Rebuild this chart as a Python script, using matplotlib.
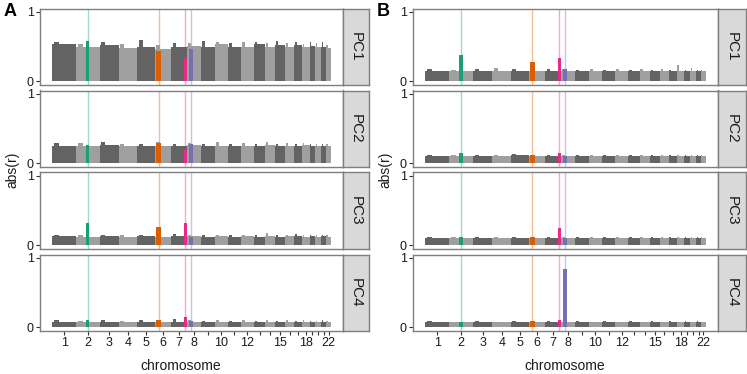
import numpy as np
import matplotlib
matplotlib.use("Agg")
import matplotlib.pyplot as plt

plt.rcParams['font.family'] = ['Liberation Sans', 'DejaVu Sans']

# chromosome lengths (Mb) and tick labels
chrom_len = [249, 243, 198, 191, 181, 171, 159, 146, 141, 136, 135,
             134, 115, 107, 103, 90, 81, 78, 59, 63, 48, 51]
tick_labels = ['1', '2', '3', '4', '5', '6', '7', '8', '', '10', '',
               '12', '', '', '15', '', '', '18', '', '', '', '22']
pcs = ['PC1', 'PC2', 'PC3', 'PC4']

# highlighted regions: chromosome, start (Mb), end (Mb)
hl_chrom = [2, 6, 7, 8]
hl_start = [100, 15, 125, 25]
hl_end = [135, 60, 159, 60]
hl_color = ['#1B9E77', '#D95F02', '#E7298A', '#7570B3']

# panel A: block level / local peak per chromosome, and highlight heights
a_level = [
    [0.53, 0.49, 0.52, 0.48, 0.50, 0.47, 0.50, 0.51, 0.50, 0.53, 0.50,
     0.50, 0.53, 0.50, 0.52, 0.50, 0.52, 0.49, 0.51, 0.50, 0.50, 0.48],
    [0.25, 0.24, 0.26, 0.24, 0.25, 0.25, 0.24, 0.26, 0.25, 0.25, 0.24,
     0.25, 0.24, 0.26, 0.24, 0.25, 0.25, 0.26, 0.24, 0.25, 0.24, 0.24],
    [0.13, 0.12, 0.13, 0.12, 0.13, 0.12, 0.13, 0.13, 0.12, 0.13, 0.12,
     0.13, 0.12, 0.13, 0.12, 0.13, 0.13, 0.12, 0.13, 0.12, 0.13, 0.12],
    [0.08, 0.08, 0.08, 0.07, 0.08, 0.08, 0.08, 0.08, 0.07, 0.08, 0.08,
     0.08, 0.07, 0.08, 0.08, 0.08, 0.07, 0.08, 0.08, 0.07, 0.08, 0.08],
]
a_peak = [
    [0.57, 0.54, 0.57, 0.53, 0.60, 0.52, 0.55, 0.55, 0.58, 0.57, 0.55,
     0.56, 0.57, 0.55, 0.58, 0.55, 0.57, 0.54, 0.57, 0.55, 0.57, 0.52],
    [0.29, 0.29, 0.31, 0.27, 0.28, 0.30, 0.28, 0.29, 0.28, 0.30, 0.27,
     0.29, 0.27, 0.30, 0.27, 0.29, 0.28, 0.29, 0.27, 0.28, 0.27, 0.27],
    [0.15, 0.14, 0.15, 0.14, 0.15, 0.14, 0.16, 0.15, 0.14, 0.15, 0.14,
     0.15, 0.14, 0.17, 0.14, 0.15, 0.16, 0.14, 0.15, 0.14, 0.15, 0.14],
    [0.10, 0.09, 0.10, 0.09, 0.10, 0.09, 0.11, 0.10, 0.09, 0.10, 0.09,
     0.10, 0.09, 0.10, 0.09, 0.10, 0.09, 0.10, 0.09, 0.09, 0.10, 0.09],
]
a_hl = [[0.58, 0.44, 0.35, 0.46],
        [0.26, 0.29, 0.20, 0.28],
        [0.32, 0.26, 0.32, 0.12],
        [0.10, 0.10, 0.15, 0.09]]

# panel B
b_level = [
    [0.15, 0.14, 0.15, 0.15, 0.15, 0.14, 0.15, 0.15, 0.14, 0.15, 0.14,
     0.15, 0.14, 0.15, 0.14, 0.15, 0.14, 0.15, 0.14, 0.15, 0.14, 0.14],
    [0.10, 0.10, 0.10, 0.10, 0.11, 0.10, 0.10, 0.10, 0.10, 0.10, 0.10,
     0.10, 0.10, 0.10, 0.10, 0.10, 0.10, 0.10, 0.10, 0.10, 0.10, 0.10],
    [0.10, 0.10, 0.10, 0.10, 0.10, 0.10, 0.10, 0.10, 0.10, 0.10, 0.10,
     0.10, 0.10, 0.10, 0.10, 0.10, 0.10, 0.10, 0.10, 0.10, 0.10, 0.10],
    [0.07, 0.07, 0.07, 0.07, 0.07, 0.07, 0.07, 0.07, 0.07, 0.07, 0.07,
     0.07, 0.07, 0.07, 0.07, 0.07, 0.07, 0.07, 0.07, 0.07, 0.07, 0.07],
]
b_peak = [
    [0.17, 0.16, 0.17, 0.19, 0.18, 0.16, 0.17, 0.18, 0.16, 0.17, 0.16,
     0.17, 0.16, 0.17, 0.16, 0.17, 0.16, 0.23, 0.16, 0.19, 0.16, 0.16],
    [0.12, 0.12, 0.12, 0.12, 0.13, 0.12, 0.12, 0.12, 0.12, 0.12, 0.12,
     0.12, 0.12, 0.12, 0.12, 0.12, 0.12, 0.12, 0.12, 0.12, 0.12, 0.12],
    [0.12, 0.11, 0.12, 0.11, 0.12, 0.11, 0.12, 0.12, 0.12, 0.11, 0.12,
     0.11, 0.12, 0.11, 0.12, 0.11, 0.12, 0.11, 0.12, 0.11, 0.12, 0.11],
    [0.09, 0.08, 0.09, 0.08, 0.09, 0.08, 0.09, 0.08, 0.09, 0.08, 0.09,
     0.08, 0.09, 0.08, 0.09, 0.08, 0.09, 0.08, 0.09, 0.08, 0.09, 0.08],
]
b_hl = [[0.38, 0.28, 0.34, 0.17],
        [0.15, 0.12, 0.15, 0.10],
        [0.12, 0.12, 0.24, 0.10],
        [0.08, 0.09, 0.10, 0.84]]

W, H = 747, 374
fig = plt.figure(figsize=(W / 100, H / 100), dpi=100)


def px_axes(x0, y0, x1, y1):
    return fig.add_axes([x0 / W, 1 - y1 / H, (x1 - x0) / W, (y1 - y0) / H])


lens = np.array(chrom_len, dtype=float)
starts = np.concatenate([[0], np.cumsum(lens)[:-1]])
centers = starts + lens / 2
G = lens.sum()
dark, light = '#636363', '#9f9f9f'
block_col = [dark if i % 2 == 0 else light for i in range(len(lens))]
hl_x0 = np.array([starts[c - 1] + s for c, s in zip(hl_chrom, hl_start)])
hl_w = np.array(hl_end) - np.array(hl_start)

panels = [
    ('A', 40, 343, 369, a_level, a_peak, a_hl, 181, 12, 10),
    ('B', 413, 718, 746, b_level, b_peak, b_hl, 565, 385, 383),
]

for (name, left, right, sright, levels, peaks, hls,
     xlab_x, ylab_x, letter_x) in panels:
    for i, pc in enumerate(pcs):
        top = 8.5 + i * 82
        bot = top + 76
        ax = px_axes(left, top, right, bot)
        for x0, w, col in zip(hl_x0, hl_w, hl_color):
            ax.axvline(x0 + w / 2, color=col, lw=1, alpha=0.4, zorder=0)
        ax.bar(starts, levels[i], width=lens, align='edge',
               color=block_col, zorder=1)
        ax.bar(starts + lens * 0.08, peaks[i], width=lens * 0.22,
               align='edge', color=block_col, zorder=1)
        ax.bar(hl_x0, hls[i], width=hl_w, align='edge', color=hl_color,
               zorder=2)
        ax.set_xlim(-0.043 * G, 1.043 * G)
        ax.set_ylim(-0.05, 1.05)
        ax.set_yticks([0, 1])
        ax.set_yticklabels(['0', '1'])
        ax.set_xticks(centers)
        ax.tick_params(labelsize=9, length=3, width=0.8, color='#333333',
                       labelcolor='#1a1a1a', pad=1.5)
        if i == 3:
            ax.set_xticklabels(tick_labels)
        else:
            ax.set_xticks([])
        for sp in ax.spines.values():
            sp.set_color('#7f7f7f')
            sp.set_linewidth(1)

        sax = px_axes(right, top, sright, bot)
        sax.set_facecolor('#d9d9d9')
        sax.set_xticks([])
        sax.set_yticks([])
        for sp in sax.spines.values():
            sp.set_color('#7f7f7f')
            sp.set_linewidth(1)
        sax.text(0.5, 0.5, pc, rotation=-90, ha='center', va='center',
                 fontsize=11, color='#1a1a1a', transform=sax.transAxes)

    fig.text(xlab_x / W, 1 - 366 / H, 'chromosome', ha='center',
             va='center', fontsize=10, color='#1a1a1a')
    fig.text(ylab_x / W, 1 - 170 / H, 'abs(r)', rotation=90, ha='center',
             va='center', fontsize=10, color='#1a1a1a')
    fig.text(letter_x / W, 1 - 12 / H, name, ha='center', va='center',
             fontsize=13, fontweight='bold')

fig.savefig('out.png', dpi=100)
